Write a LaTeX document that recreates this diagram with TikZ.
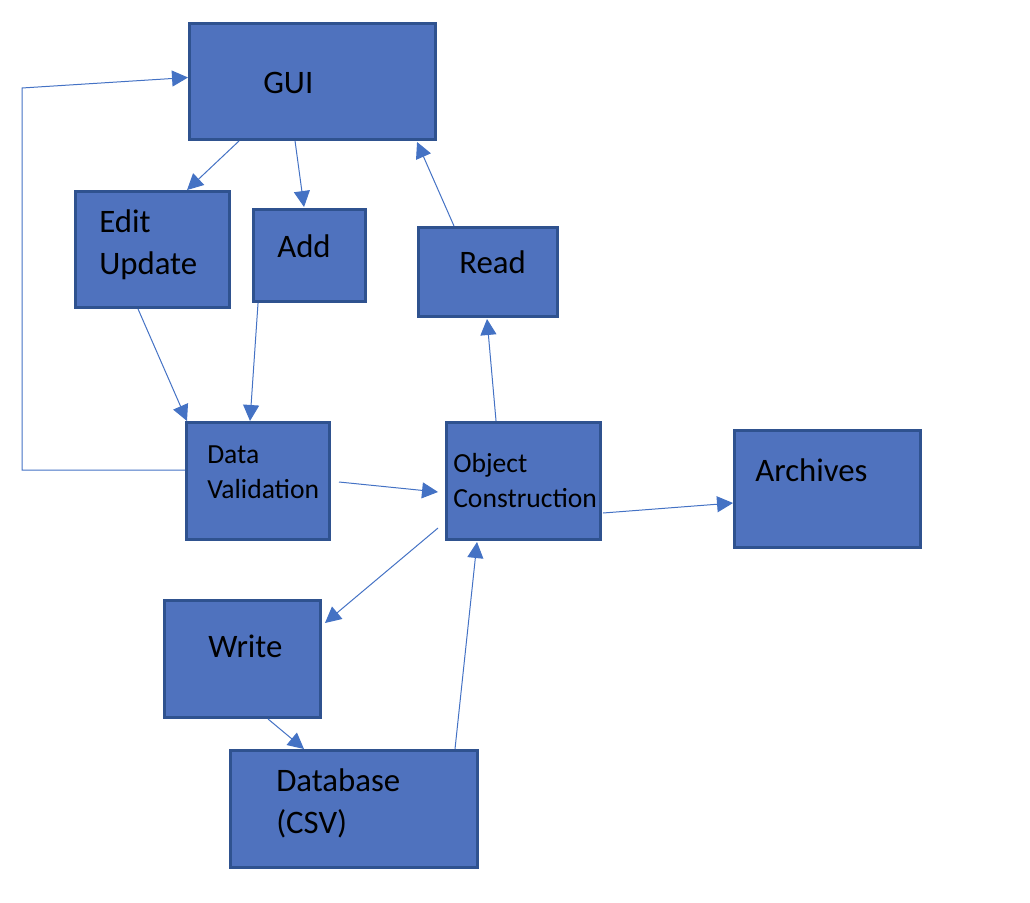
\documentclass[tikz,border=0pt]{standalone}
\usepackage{fontspec}
\setmainfont{Carlito}
\usetikzlibrary{arrows.meta,calc,positioning}
\definecolor{boxfill}{RGB}{79,114,190}
\definecolor{boxline}{RGB}{47,82,143}
\definecolor{flowblue}{RGB}{68,114,196}

\begin{document}
\begin{tikzpicture}[x=0.75pt,y=-0.75pt,>={Triangle[length=12pt,width=12pt]},
	box/.style={draw=boxline,fill=boxfill,line width=2pt,rectangle,inner sep=0pt},
	big/.style={anchor=base west,align=left,inner sep=0pt,font=\fontsize{24.6}{31.5}\selectfont},
	small/.style={anchor=base west,align=left,inner sep=0pt,font=\fontsize{20.7}{26}\selectfont},
	link/.style={->,draw=flowblue,line width=0.75pt}]
	\useasboundingbox (0,0) rectangle (1030,902);
	\node[box,minimum width=184.7pt,minimum height=87.2pt] (gui) at (312.5,81.5) {};
	\node[box,minimum width=115.7pt,minimum height=87.2pt] (edit) at (152.5,249.5) {};
	\node[box,minimum width=84.2pt,minimum height=69.2pt] (add) at (309.5,255.5) {};
	\node[box,minimum width=104.5pt,minimum height=67pt] (read) at (488,272) {};
	\node[box,minimum width=107.5pt,minimum height=88pt] (dv) at (258,481) {};
	\node[box,minimum width=115.7pt,minimum height=88pt] (oc) at (523.5,481) {};
	\node[box,minimum width=139.7pt,minimum height=88pt] (arch) at (827.5,489) {};
	\node[box,minimum width=117.2pt,minimum height=88pt] (write) at (242.5,659) {};
	\node[box,minimum width=185.5pt,minimum height=88pt] (db) at (354,809) {};

	\node[big] (guitext) at (263,94) {GUI};
	\node[big] (edittext) at (99,274) {Edit\\Update};
	\node[big] (addtext) at (277,257) {Add};
	\node[big] (readtext) at (459,273) {Read};
	\node[small] (dvtext) at (207,498) {Data\\Validation};
	\node[small] (octext) at (453,507) {Object\\Construction};
	\node[big] (archtext) at (755,481) {Archives};
	\node[big] (writetext) at (208,657) {Write};
	\node[big,font=\fontsize{24.6}{30.8}\selectfont] (dbtext) at (276,833) {Database\\(CSV)};

	\coordinate (loopcorner) at (22,88);
	\draw[link] ($(gui.south west)+(51,0)$) -- ($(edit.north west)+(113,0)$);
	\draw[link] ($(gui.south west)+(107,0)$) -- ($(add.north west)+(52,-1)$);
	\draw[link] ($(read.north west)+(37,0)$) -- ($(gui.south west)+(229,1)$);
	\draw[link] ($(edit.south west)+(64,0)$) -- ($(dv.north west)+(2,0)$);
	\draw[link] ($(add.south west)+(6,0)$) -- ($(dv.north west)+(65,0)$);
	\draw[link] ($(dv.west)+(0,-11)$) -| (loopcorner) -- ($(gui.west)+(0,-4)$);
	\draw[link] ($(dv.east)+(8,1)$) -- ($(oc.west)+(-7,11)$);
	\draw[link] ($(oc.north west)+(51,0)$) -- ($(read.south west)+(70,1)$);
	\draw[link] ($(oc.east)+(1,32)$) -- ($(arch.west)+(0,14)$);
	\draw[link] ($(oc.west)+(-7,47)$) -- ($(write.east)+(3,-36)$);
	\draw[link] ($(write.south west)+(105,0)$) -- ($(db.north west)+(75,0)$);
	\draw[link] ($(db.north west)+(226,0)$) -- ($(oc.south west)+(32,1)$);
\end{tikzpicture}
\end{document}
